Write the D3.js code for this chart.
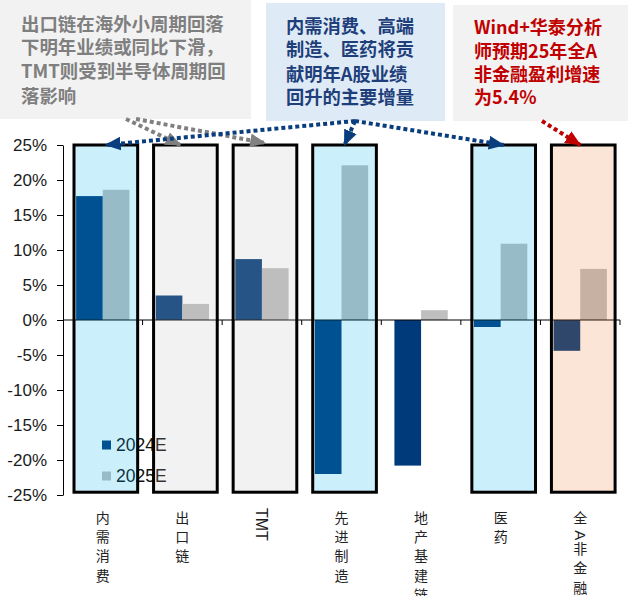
<!DOCTYPE html>
<html>
<head>
<meta charset="utf-8">
<script src="https://cdn.jsdelivr.net/npm/d3@7"></script>
<style>
  html, body { margin: 0; padding: 0; background: #fff; }
  svg { display: block; }
</style>
</head>
<body>
<svg id="chart" width="628" height="596"></svg>
<script>
// Earnings growth by sector, 2024E vs 2025E (%)
const categories = ["内需消费", "出口链", "TMT", "先进制造", "地产基建链", "医药", "全A非金融"];
const seriesNames = ["2024E", "2025E"];
const values2024E = [17.7, 3.5, 8.7, -22.0, -20.8, -1.0, -4.4];
const values2025E = [18.6, 2.3, 7.4, 22.1, 1.4, 10.9, 7.3];
const yTickValues = [-25, -20, -15, -10, -5, 0, 5, 10, 15, 20, 25];

// Which sectors sit in a highlighted column
const highlightGroup = ["domestic", "cyclical", "cyclical", "domestic", null, "domestic", "market"];

// Callout texts
const noteCyclical = ["出口链在海外小周期回落", "下明年业绩或同比下滑，", "TMT则受到半导体周期回", "落影响"];
const noteDomestic = ["内需消费、高端", "制造、医药将贡", "献明年A股业绩", "回升的主要增量"];
const noteMarket = ["Wind+华泰分析", "师预期25年全A", "非金融盈利增速", "为5.4%"];

// ---- styles ----
const seriesColor = { "2024E": "#003a7a", "2025E": "#bfbfbf" };
const highlightColor = { domestic: "#00b0f0", cyclical: "#bfbfbf", market: "#ed7d31" };
const cjk = "'Noto Sans CJK SC', 'Noto Sans', sans-serif";
const latin = "'Liberation Sans', Arial, sans-serif";

const svg = d3.select("#chart");
svg.append("rect").attr("width", 628).attr("height", 596).attr("fill", "#fff");

const plot = { left: 63, right: 620 };
const y = d3.scaleLinear().domain([-25, 25]).range([495, 145]);
const x0 = d3.scaleBand().domain(categories).range([plot.left, plot.right]).padding(0);
const bw = x0.bandwidth();
const x1 = d3.scaleBand().domain(seriesNames).range([bw * 0.165, bw * 0.835]).padding(0);

const rows = categories.map((c, i) => ({
  category: c,
  values: [
    { key: "2024E", value: values2024E[i] },
    { key: "2025E", value: values2025E[i] }
  ],
  group: highlightGroup[i]
}));

// ---- y axis ----
const yAxis = d3.axisLeft(y)
  .tickValues(yTickValues)
  .tickFormat(d => d + "%")
  .tickSize(6)
  .tickSizeOuter(0)
  .tickPadding(10);
const gy = svg.append("g").attr("transform", `translate(${plot.left},0)`).call(yAxis);
gy.select(".domain").attr("stroke", "#000").attr("stroke-width", 1);
gy.selectAll(".tick line").attr("stroke", "#000");
gy.selectAll(".tick text")
  .attr("fill", "#1a1a1a")
  .style("font-family", latin)
  .style("font-size", "17px");

// ---- bars ----
const groups = svg.append("g").selectAll("g")
  .data(rows)
  .join("g")
  .attr("transform", d => `translate(${x0(d.category)},0)`);

groups.selectAll("rect")
  .data(d => d.values)
  .join("rect")
  .attr("x", d => x1(d.key))
  .attr("width", x1.bandwidth())
  .attr("y", d => y(Math.max(0, d.value)))
  .attr("height", d => Math.abs(y(d.value) - y(0)))
  .attr("fill", d => seriesColor[d.key]);

// ---- zero line with category ticks ----
const gx = svg.append("g");
gx.append("line")
  .attr("x1", plot.left).attr("x2", plot.right)
  .attr("y1", y(0)).attr("y2", y(0))
  .attr("stroke", "#000").attr("stroke-width", 1);
const boundaries = categories.map(c => x0(c) + bw);
gx.selectAll("line.tick")
  .data(boundaries)
  .join("line")
  .attr("class", "tick")
  .attr("x1", d => d).attr("x2", d => d)
  .attr("y1", y(0)).attr("y2", y(0) + 5)
  .attr("stroke", "#000").attr("stroke-width", 1);

// ---- legend ----
const legend = svg.append("g").attr("transform", "translate(102,445)");
seriesNames.forEach((s, i) => {
  const g = legend.append("g").attr("transform", `translate(0,${i * 31})`);
  g.append("rect").attr("x", 0).attr("y", -4.5).attr("width", 9).attr("height", 9).attr("fill", seriesColor[s]);
  g.append("text").attr("x", 14).attr("y", 0).attr("dy", "0.35em")
    .attr("fill", "#111")
    .style("font-family", latin).style("font-size", "17.5px")
    .text(s);
});

// ---- highlight columns (translucent, drawn over bars) ----
const boxTop = y(25), boxBottom = y(-24.6);
svg.append("g").selectAll("rect")
  .data(rows.filter(d => d.group))
  .join("rect")
  .attr("x", d => x0(d.category) + 11)
  .attr("width", bw * 0.8)
  .attr("y", boxTop)
  .attr("height", boxBottom - boxTop)
  .attr("fill", d => highlightColor[d.group])
  .attr("fill-opacity", 0.2)
  .attr("stroke", "#000")
  .attr("stroke-width", 3);

// ---- category labels (vertical, one glyph per line; Latin glyphs turned sideways) ----
const xl = svg.append("g");
rows.forEach(d => {
  const cx = x0(d.category) + bw / 2;
  if (/^[A-Za-z]+$/.test(d.category)) {
    xl.append("text")
      .attr("transform", `translate(${cx - 6},508) rotate(90)`)
      .attr("fill", "#1a1a1a")
      .style("font-family", latin).style("font-size", "16px")
      .text(d.category);
  } else {
    let yPos = 510;
    Array.from(d.category).forEach(ch => {
      if (/[A-Za-z]/.test(ch)) {
        xl.append("text")
          .attr("transform", `translate(${cx - 5.5},${yPos + 1}) rotate(90)`)
          .attr("fill", "#1a1a1a")
          .style("font-family", latin).style("font-size", "15px")
          .text(ch);
        yPos += 12;
      } else {
        xl.append("text")
          .attr("x", cx).attr("y", yPos + 13)
          .attr("text-anchor", "middle")
          .attr("fill", "#222")
          .style("font-family", cjk).style("font-size", "14px")
          .text(ch);
        yPos += 19.2;
      }
    });
  }
});

// ---- callout boxes ----
function callout(x, yTop, w, h, fill, color, lines, tx, lineYs, firstLineWidth) {
  svg.append("rect").attr("x", x).attr("y", yTop).attr("width", w).attr("height", h).attr("fill", fill);
  const g = svg.append("g")
    .attr("fill", color)
    .style("font-family", cjk).style("font-size", "18px").style("font-weight", 700);
  const texts = lines.map((ln, i) =>
    g.append("text").attr("x", tx).attr("y", lineYs[i]).attr("dy", "0.35em").text(ln));
  // scale the type so the first line fills its measured width
  const len = texts[0].node().getComputedTextLength();
  if (len > 0) g.style("font-size", (18 * firstLineWidth / len).toFixed(2) + "px");
}
callout(0, 0, 251, 119, "#f2f2f2", "#7f7f7f", noteCyclical, 21, [25, 48, 72, 97], 203);
callout(266, 3, 179, 118, "#deebf7", "#1f3f7a", noteDomestic, 286, [27, 50, 75, 98], 128);
callout(453, 5, 175, 116, "#f2f2f2", "#c00000", noteMarket, 474, [28, 52, 75, 98], 128);

// ---- dotted arrows ----
const defs = svg.append("defs");
function marker(id, color) {
  defs.append("marker")
    .attr("id", id)
    .attr("markerUnits", "userSpaceOnUse")
    .attr("viewBox", "0 0 14 12")
    .attr("refX", 13).attr("refY", 6)
    .attr("markerWidth", 16).attr("markerHeight", 14)
    .attr("orient", "auto")
    .append("path").attr("d", "M0,0 L14,6 L0,12 Z").attr("fill", color);
}
marker("arrGrey", "#808080");
marker("arrBlue", "#0a3d7e");
marker("arrRed", "#c00000");

function arrow(x1p, y1p, x2p, y2p, color, id) {
  svg.append("line")
    .attr("x1", x1p).attr("y1", y1p).attr("x2", x2p).attr("y2", y2p)
    .attr("stroke", color).attr("stroke-width", 4)
    .attr("stroke-dasharray", "4 3")
    .attr("marker-end", `url(#${id})`);
}
const boxCenter = c => x0(c) + 11 + bw * 0.4;
arrow(126, 119, boxCenter("出口链") - 5, y(25), "#808080", "arrGrey");
arrow(136, 119, boxCenter("TMT"), y(25) - 2, "#808080", "arrGrey");
arrow(355, 121, boxCenter("内需消费"), y(25), "#0a3d7e", "arrBlue");
arrow(355, 121, boxCenter("先进制造"), y(25), "#0a3d7e", "arrBlue");
arrow(355, 121, boxCenter("医药"), y(25), "#0a3d7e", "arrBlue");
arrow(542, 121, boxCenter("全A非金融") - 3, y(25), "#c00000", "arrRed");
</script>
</body>
</html>
